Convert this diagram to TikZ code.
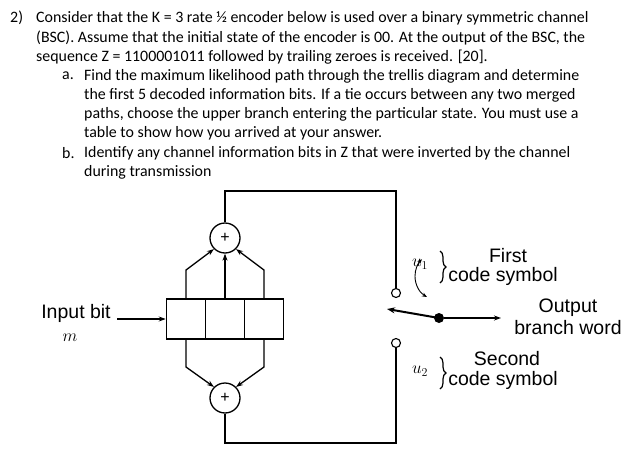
\documentclass[tikz,border=0pt]{standalone}
\usepackage{fontspec}
\setmainfont{Carlito}
\newfontfamily\lab{Liberation Sans}
\usetikzlibrary{arrows.meta,decorations.pathreplacing}
\tikzset{
  txt/.style={anchor=west,inner sep=0pt,font=\fontsize{15.9}{18}\selectfont},
  lb/.style={inner sep=0pt,font=\lab\fontsize{19.5}{22}\selectfont},
  myln/.style={line width=1.3pt},
  myarr/.style={line width=1.3pt,>={Stealth[length=7pt,width=5pt]},->},
  bracestyle/.style={line width=1.2pt,decorate,decoration={brace,amplitude=6pt}},
  adder/.style={circle,draw,line width=1.3pt,minimum size=30pt,inner sep=0pt,font=\lab\fontsize{16}{18}\selectfont},
  cell/.style={draw,line width=1.3pt,minimum width=39.3pt,minimum height=40pt,inner sep=0pt},
  term/.style={circle,draw,line width=1.1pt,minimum size=9pt,inner sep=0pt,fill=white}}
\begin{document}
\begin{tikzpicture}[x=1pt,y=-1pt]
\useasboundingbox (0,0) rectangle (630,450);
% text
\node[txt] (t0) at (10,18) {2)};
\node[txt] (t1) at (36,18) {Consider that the K = 3 rate ½ encoder below is used over a binary symmetric channel};
\node[txt] (t2) at (36,37.5) {(BSC). Assume that the initial state of the encoder is 00. At the output of the BSC, the};
\node[txt] (t3) at (36,57) {sequence Z = 1100001011 followed by trailing zeroes is received. [20].};
\node[txt] (t4) at (62,76) {a.};
\node[txt] (t5) at (84,76) {Find the maximum likelihood path through the trellis diagram and determine};
\node[txt] (t6) at (84,95) {the first 5 decoded information bits. If a tie occurs between any two merged};
\node[txt] (t7) at (84,114) {paths, choose the upper branch entering the particular state. You must use a};
\node[txt] (t8) at (84,133.5) {table to show how you arrived at your answer.};
\node[txt] (t9) at (62,153) {b.};
\node[txt] (t10) at (84,153) {Identify any channel information bits in Z that were inverted by the channel};
\node[txt] (t11) at (84,172) {during transmission};
% register
\node[cell] (c1) at (186,319) {};
\node[cell] (c2) at (225,319) {};
\node[cell] (c3) at (264,319) {};
\node[adder] (a1) at (225,238) {+};
\node[adder] (a2) at (225,398) {+};
% taps up
\draw[myarr] (c1.north) -- (186,270) -- (a1.225);
\draw[myarr] (c2.north) -- (a1.south);
\draw[myarr] (c3.north) -- (264,270) -- (a1.315);
% taps down
\draw[myarr] (c1.south) -- (186,367) -- (a2.135);
\draw[myarr] (c3.south) -- (264,367) -- (a2.45);
% terminals
\node[term] (p1) at (396,293) {};
\node[term] (p2) at (396,343) {};
\draw[myln] (a1.north) -- (225,191) -- (396,191) -- (p1.north);
\draw[myln] (a2.south) -- (225,443) -- (396,443) -- (p2.south);
% switch
\node[circle,fill,inner sep=0pt,minimum size=10pt] (pv) at (439,318) {};
\coordinate (sw) at (387,309);
\draw[line width=2pt,>={Stealth[length=8pt,width=6pt]},->] (pv.center) -- (sw);
\coordinate (out) at (501,318);
\draw[myarr] (pv) -- (out);
\draw[line width=0.9pt,>={Stealth[length=5pt,width=4pt]},<->] (427,297) arc[start angle=120,end angle=225,radius=24];
% input
\node[lb] (in) at (76,313) {Input bit};
\node[lb,font=\fontsize{19}{22}\selectfont] (m) at (70,338) {$m$};
\coordinate (inA) at (117,319);
\draw[myarr] (inA) -- (c1.west);
% labels
\node[lb,font=\fontsize{18}{22}\selectfont] (u1) at (420,264) {$u_1$};
\draw[bracestyle] (440,251) -- (440,283);
\node[lb] (f1) at (508,256) {First};
\node[lb] (f2) at (503,276) {code symbol};
\node[lb,font=\fontsize{18}{22}\selectfont] (u2) at (420,371) {$u_2$};
\draw[bracestyle] (440,357) -- (440,389);
\node[lb] (s1) at (507,359) {Second};
\node[lb] (s2) at (503,380) {code symbol};
\node[lb] (o1) at (568,308) {Output};
\node[lb] (o2) at (568,328) {branch word};
\end{tikzpicture}
\end{document}
